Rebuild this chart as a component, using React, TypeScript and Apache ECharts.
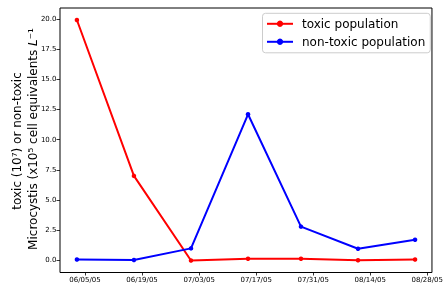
import React, { useEffect, useRef } from "react";
import * as echarts from "echarts";

const DATES = ["2005-06-03", "2005-06-17", "2005-07-01", "2005-07-15", "2005-07-28", "2005-08-11", "2005-08-25"];
const TOXIC = [19.9, 7.0, 0.0, 0.14, 0.14, 0.02, 0.08];
const NON_TOXIC = [0.08, 0.04, 1.0, 12.1, 2.8, 0.97, 1.72];
const X_TICK_DATES = ["2005-06-05", "2005-06-19", "2005-07-03", "2005-07-17", "2005-07-31", "2005-08-14", "2005-08-28"];
const X_TICK_LABELS = ["06/05/05", "06/19/05", "07/03/05", "07/17/05", "07/31/05", "08/14/05", "08/28/05"];
const Y_TICKS = [0, 2.5, 5, 7.5, 10, 12.5, 15, 17.5, 20];

const BASE = Date.UTC(2005, 5, 5);
const toDay = (s: string) => {
  const [y, m, d] = s.split("-").map(Number);
  return (Date.UTC(y, m - 1, d) - BASE) / 86400000;
};

export default function App() {
  const ref = useRef<HTMLDivElement>(null);
  useEffect(() => {
    if (!ref.current) return;
    const chart = echarts.init(ref.current, null, { renderer: "svg" });
    const xs = DATES.map(toDay);
    const tickDays = X_TICK_DATES.map(toDay);
    const font = "DejaVu Sans";
    chart.setOption({
      animation: false,
      grid: { left: 60, right: 10.5, top: 8, bottom: 10, show: true, borderColor: "#000", borderWidth: 1, backgroundColor: "transparent" },
      xAxis: {
        type: "value",
        min: -6.15,
        max: 85.15,
        splitLine: { show: false },
        axisLine: { show: false, onZero: false },
        axisTick: { show: true, inside: false, customValues: tickDays, length: 3, lineStyle: { color: "#000", width: 0.8 } },
        axisLabel: {
          customValues: tickDays,
          formatter: (v: number) => {
            const i = tickDays.findIndex((t) => Math.abs(t - v) < 1e-6);
            return i >= 0 ? X_TICK_LABELS[i] : "";
          },
          color: "#000",
          fontFamily: font,
          fontSize: 7,
          margin: 3.5,
          hideOverlap: false,
        },
      },
      yAxis: {
        type: "value",
        min: -0.995,
        max: 20.895,
        splitLine: { show: false },
        axisLine: { show: false, onZero: false },
        axisTick: { show: true, inside: false, customValues: Y_TICKS, length: 3.5, lineStyle: { color: "#000", width: 0.8 } },
        axisLabel: {
          customValues: Y_TICKS,
          formatter: (v: number) => v.toFixed(1),
          color: "#000",
          fontFamily: font,
          fontSize: 7,
          margin: 3.5,
        },
      },
      legend: {
        show: true,
        orient: "vertical",
        left: 262.5,
        top: 13.3,
        padding: [4.5, 5, 5, 3.5],
        itemWidth: 26,
        itemHeight: 8,
        itemGap: 6,
        backgroundColor: "rgba(255,255,255,0.8)",
        borderColor: "#cccccc",
        borderWidth: 1,
        borderRadius: 3,
        textStyle: { fontFamily: font, fontSize: 12, color: "#000", padding: [0, 0, 0, 4] },
        data: ["toxic population", "non-toxic population"],
      },
      graphic: [
        {
          type: "text",
          x: 17,
          y: 141,
          rotation: Math.PI / 2,
          style: {
            text: "toxic (10⁷) or non-toxic",
            fontFamily: font,
            fontSize: 12,
            fill: "#000",
            align: "center",
            verticalAlign: "middle",
          },
        },
        {
          type: "text",
          x: 33,
          y: 139,
          rotation: Math.PI / 2,
          style: {
            text: "Microcystis (x10⁵ cell equivalents {i|L}⁻¹",
            rich: { i: { fontFamily: font, fontSize: 12, fontStyle: "italic", fill: "#000" } },
            fontFamily: font,
            fontSize: 12,
            fill: "#000",
            align: "center",
            verticalAlign: "middle",
          },
        },
      ],
      series: [
        {
          name: "toxic population",
          type: "line",
          data: xs.map((x, i) => [x, TOXIC[i]]),
          symbol: "circle",
          symbolSize: 4.5,
          lineStyle: { color: "#ff0000", width: 2 },
          itemStyle: { color: "#ff0000" },
        },
        {
          name: "non-toxic population",
          type: "line",
          data: xs.map((x, i) => [x, NON_TOXIC[i]]),
          symbol: "circle",
          symbolSize: 4.5,
          lineStyle: { color: "#0000ff", width: 2 },
          itemStyle: { color: "#0000ff" },
        },
      ],
    });
    return () => chart.dispose();
  }, []);
  return <div ref={ref} style={{ position: "fixed", left: 0, top: 0, width: 446, height: 283 }} />;
}
